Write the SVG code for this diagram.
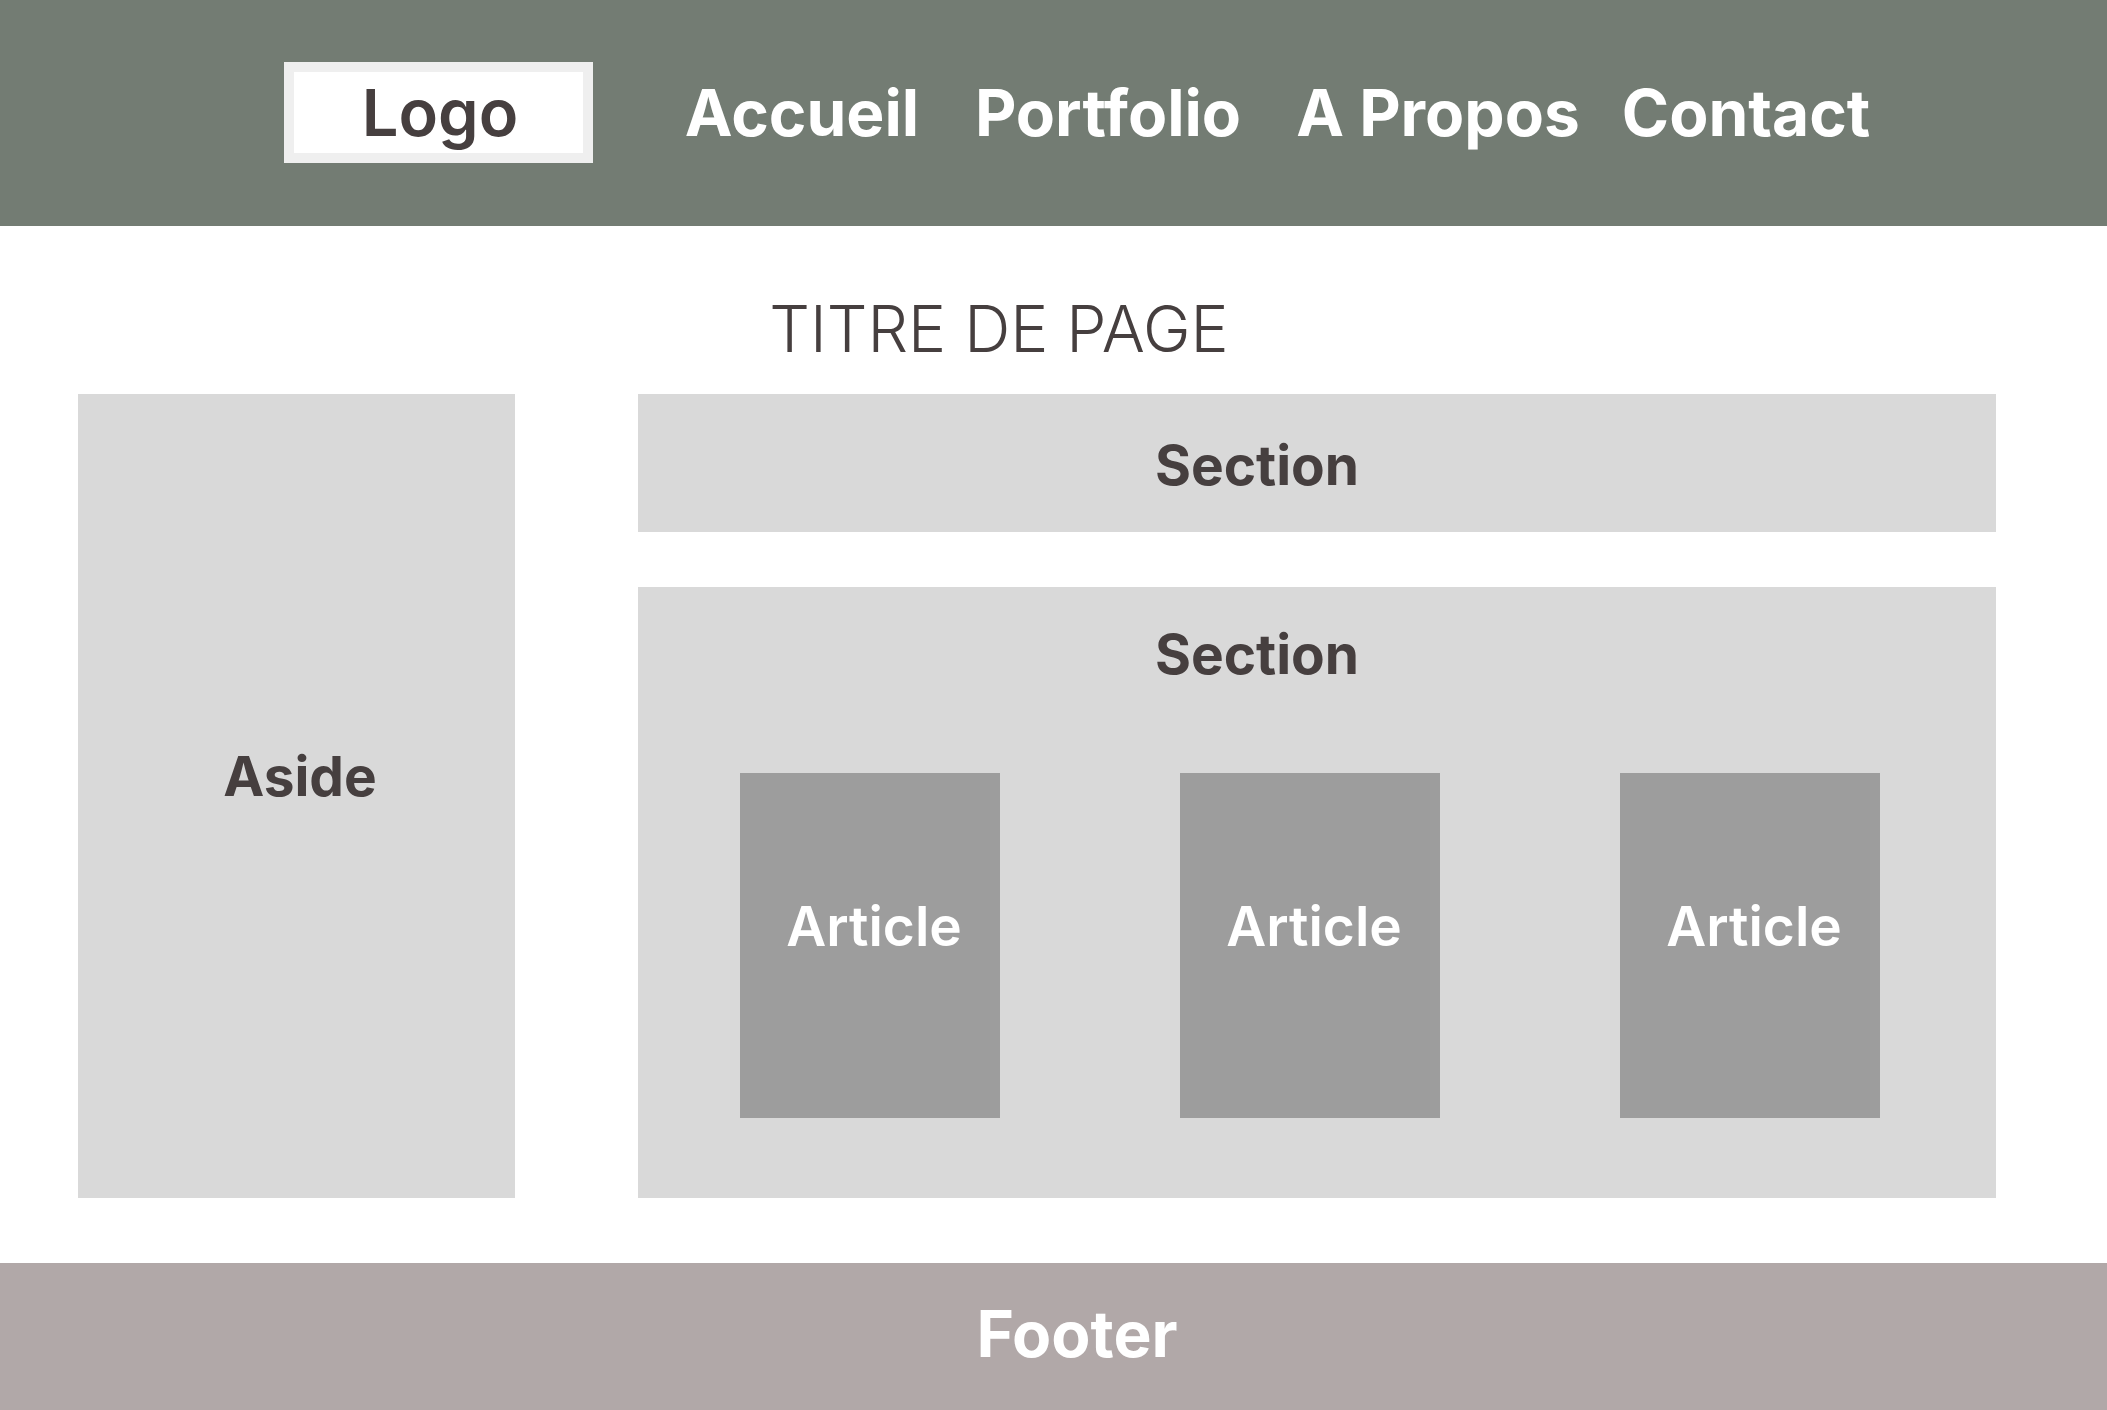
<svg xmlns="http://www.w3.org/2000/svg" width="2107" height="1410" viewBox="0 0 2107 1410">
  <style>
    text { font-family: Inter, "Noto Sans", "Liberation Sans", sans-serif; text-anchor: middle; }
    .nav { fill: #ffffff; font-size: 64px; font-weight: 700; }
    .dark { fill: #463f3f; }
    .block { fill: #d9d9d9; }
    .article { fill: #9d9d9d; }
    .label { font-size: 55px; font-weight: 700; }
    .art-label { fill: #ffffff; font-size: 55px; font-weight: 600; }
  </style>
  <rect x="0" y="0" width="2107" height="1410" fill="#ffffff"/>

  <!-- Top navigation bar -->
  <g id="header">
    <rect x="0" y="0" width="2107" height="226" fill="#737c73"/>
  </g>
  <g id="logo">
    <rect x="289" y="67" width="299" height="91" fill="#ffffff" stroke="#efefef" stroke-width="10"/>
    <text class="dark" x="440" y="136" font-size="65" font-weight="600">Logo</text>
  </g>
  <g id="nav-accueil"><text class="nav" x="802" y="136">Accueil</text></g>
  <g id="nav-portfolio"><text class="nav" x="1108" y="136">Portfolio</text></g>
  <g id="nav-apropos"><text class="nav" x="1438" y="136">A Propos</text></g>
  <g id="nav-contact"><text class="nav" x="1746" y="136">Contact</text></g>

  <!-- Page heading -->
  <g id="page-title">
    <text class="dark" x="999" y="352" font-size="64" font-weight="300">TITRE DE PAGE</text>
  </g>

  <!-- Sidebar -->
  <g id="aside">
    <rect class="block" x="78" y="394" width="437" height="804"/>
    <text class="dark label" x="300" y="796">Aside</text>
  </g>

  <!-- Main content -->
  <g id="section-top">
    <rect class="block" x="638" y="394" width="1358" height="138"/>
    <text class="dark label" x="1257" y="485">Section</text>
  </g>
  <g id="section-main">
    <rect class="block" x="638" y="587" width="1358" height="611"/>
    <text class="dark label" x="1257" y="674">Section</text>
  </g>
  <g id="article-1">
    <rect class="article" x="740" y="773" width="260" height="345"/>
    <text class="art-label" x="874" y="946">Article</text>
  </g>
  <g id="article-2">
    <rect class="article" x="1180" y="773" width="260" height="345"/>
    <text class="art-label" x="1314" y="946">Article</text>
  </g>
  <g id="article-3">
    <rect class="article" x="1620" y="773" width="260" height="345"/>
    <text class="art-label" x="1754" y="946">Article</text>
  </g>

  <!-- Bottom bar -->
  <g id="footer">
    <rect x="0" y="1263" width="2107" height="147" fill="#b1a8a8"/>
    <text x="1077" y="1357" fill="#ffffff" font-size="64" font-weight="700">Footer</text>
  </g>

  <g id="connectors"></g>
</svg>
